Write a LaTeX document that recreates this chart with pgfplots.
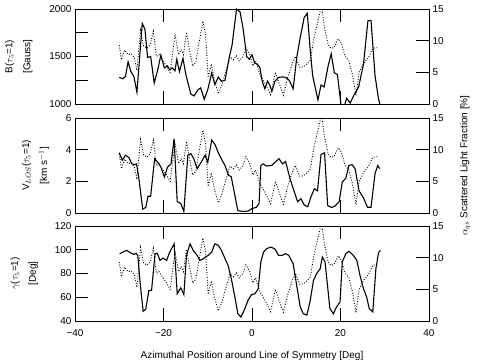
\documentclass[border=0pt]{standalone}
\usepackage{fontspec}
\setmainfont{Liberation Sans}
\usepackage{pgfplots}
\pgfplotsset{compat=1.18}
\usepackage{pgfplotstable}

% scattered light fraction (same in all three panels)
\pgfplotstableread{
x a
-30.0 9.3
-29.5 7.0
-28.8 8.5
-28.0 7.8
-27.2 7.9
-26.6 7.3
-26.0 5.3
-25.2 11.6
-24.5 9.2
-23.7 8.8
-23.0 9.4
-22.3 11.5
-21.6 7.5
-21.0 7.8
-20.3 7.0
-19.5 6.2
-18.5 5.0
-17.4 11.0
-16.6 7.8
-16.0 8.6
-15.5 7.8
-14.8 11.3
-14.1 8.5
-13.4 6.0
-12.7 6.6
-12.0 9.5
-11.1 13.1
-10.5 11.0
-9.9 4.2
-9.2 6.3
-8.5 3.8
-7.6 1.6
-6.8 3.0
-6.0 5.0
-5.0 7.4
-4.2 7.0
-3.5 7.6
-2.9 6.8
-2.0 7.5
-1.4 8.9
-0.6 8.0
0.2 6.0
0.8 6.8
1.8 4.6
2.9 3.3
4.2 1.5
5.3 5.0
6.0 3.5
7.1 1.4
8.0 4.0
9.0 6.2
9.8 7.5
10.8 5.8
11.7 5.9
12.5 6.4
13.2 7.0
14.0 10.4
14.8 12.8
15.7 15.5
16.4 12.0
17.2 9.4
17.8 8.8
18.5 8.9
19.5 10.3
20.2 9.6
21.0 7.6
21.9 6.8
22.7 4.6
23.5 1.3
24.2 5.0
25.3 6.5
26.3 7.3
27.3 8.8
28.4 8.9
}\alphatab

\pgfplotstableread{
x B
-30.0 1280
-29.2 1266
-28.6 1290
-28.0 1444
-27.4 1344
-26.7 1290
-26.0 1124
-24.8 1848
-24.2 1787
-23.6 1490
-22.9 1500
-22.1 1220
-21.3 1360
-20.6 1514
-19.8 1380
-19.1 1400
-18.6 1360
-18.0 1380
-17.4 1350
-17.0 1470
-16.4 1340
-15.6 1480
-14.9 1300
-13.8 1103
-13.1 1085
-12.2 1150
-11.6 1170
-10.8 1050
-10.0 1150
-9.1 1327
-8.4 1205
-7.6 1283
-6.9 1240
-6.1 1250
-5.1 1500
-4.5 1620
-3.5 2000
-2.7 1970
-2.0 1790
-1.2 1500
-0.6 1470
0.0 1520
0.6 1430
1.2 1420
1.8 1380
2.3 1240
2.9 1160
3.5 1240
4.0 1200
4.5 1134
5.2 1240
6.0 1280
6.9 1285
7.6 1280
8.4 1250
9.3 1160
10.1 1486
10.9 1700
11.8 1912
12.5 1954
13.1 1600
13.7 1300
14.9 1043
15.6 1200
16.3 1180
17.2 1400
17.9 1528
18.6 1330
19.3 1310
20.2 960
20.6 940
21.4 1060
22.2 1010
23.1 1100
24.1 1180
25.2 1420
26.2 1876
26.9 1880
27.8 1300
28.6 1050
29.2 950
}\btab

\pgfplotstableread{
x v
-30.0 3.81
-29.3 3.33
-28.6 3.65
-27.8 3.5
-27.2 3.12
-26.6 3.05
-26.1 3.1
-25.6 2.27
-24.7 0.25
-24.0 0.35
-23.5 1.06
-22.9 1.06
-22.0 3.43
-21.3 3.2
-20.6 2.9
-19.8 2.27
-19.1 2.9
-18.3 3.1
-17.6 4.7
-16.9 0.72
-16.1 0.6
-15.4 0.1
-14.5 3.65
-13.8 3.75
-13.1 3.4
-12.4 2.8
-11.5 3.2
-10.6 3.65
-10.0 3.2
-9.1 4.6
-8.4 4.35
-7.6 3.8
-6.9 3.4
-6.1 3.0
-5.3 2.38
-4.7 2.3
-4.0 1.3
-3.2 0.15
-2.0 0.1
-0.9 0.12
0.0 0.28
1.0 0.36
1.6 0.6
2.0 3.0
2.5 3.1
3.3 2.97
4.4 3.0
5.2 3.2
6.1 3.43
6.9 3.1
7.6 3.25
8.6 2.16
9.6 1.3
10.3 0.72
11.1 0.9
11.8 0.5
12.6 0.4
13.3 1.0
14.1 1.53
14.8 1.4
15.6 3.7
16.4 3.8
17.1 0.47
18.0 0.35
18.8 0.45
19.7 0.72
20.4 1.95
21.2 2.2
21.9 3.0
22.6 3.05
23.3 2.8
24.2 1.4
25.2 0.95
26.1 0.36
26.9 0.36
27.8 2.48
28.4 3.0
28.9 2.8
}\vtab

\pgfplotstableread{
x g
-29.9 96.7
-29.2 98
-28.3 99.5
-27.5 97.5
-26.7 96.1
-26.2 97
-25.8 95
-25.3 72.8
-24.6 48.2
-24.0 50
-23.3 65.8
-22.7 65.8
-21.9 96.7
-21.4 97
-20.8 91.1
-20.1 93
-19.3 91
-18.6 98
-17.6 105
-16.9 63
-16.1 68
-15.4 62.2
-14.8 95.3
-14.0 105
-13.3 99.5
-12.4 95.3
-11.8 91
-11.0 92.5
-9.9 95.3
-9.1 98
-8.4 105
-7.6 103.7
-6.9 99.5
-6.1 92.5
-5.4 86.8
-4.6 74.3
-3.8 58.8
-3.2 46.1
-2.5 43.4
-1.6 50.5
-0.9 57.5
-0.1 62.2
0.7 63
1.4 67.2
2.0 89.7
2.6 98
3.3 100.9
4.3 102.3
5.2 100.6
6.0 95.3
6.8 95.3
7.6 96.7
8.3 95.3
9.3 88.3
10.1 70
10.9 51.8
11.6 46.1
12.4 45
13.1 56
13.9 74.3
14.6 79.9
15.4 84
15.9 93.9
16.5 89.7
17.1 68.6
17.6 50.4
18.4 46.1
19.1 51.8
19.9 56
20.4 89.7
21.2 96.7
21.9 98.7
22.9 95.3
23.7 91
24.4 78.5
25.2 67.2
25.9 60.3
26.5 50.4
27.3 47.7
28.0 84
28.6 97.5
29.0 99.5
}\gtab

\pgfplotsset{
  panel/.style={
    scale only axis, width=354bp, height=95bp,
    xmin=-40, xmax=40, xtick={-40,-20,0,20,40},
    tick align=inside, major tick length=13bp,
    every tick/.style={black, line width=0.6pt},
    axis line style={line width=0.7pt},
    tick label style={font=\fontsize{10}{12}\selectfont},
    label style={font=\fontsize{10}{12}\selectfont},
    /pgf/number format/assume math mode=true,
  },
  leftax/.style={panel, ytick pos=left, xtick pos=both, xticklabels={},
    ylabel style={align=center, yshift=10bp}},
  rightax/.style={panel, axis y line*=right, axis x line=none,
    ymin=0, ymax=15, ytick={0,5,10,15}},
  solidline/.style={black, line width=1.1bp, no markers},
  dotline/.style={black, line width=0.9bp, no markers, dash pattern=on 0.9bp off 1.7bp},
}

\begin{document}
\begin{tikzpicture}
\path[use as bounding box] (0bp,0bp) rectangle (504bp,360bp);

% panel 1: field strength
\begin{axis}[leftax, at={(75bp,256bp)}, anchor=south west,
  ymin=1000, ymax=2000, ytick={1000,1250,1500,1750,2000},
  yticklabels={1000,,1500,,2000},
  ylabel={B($\tau_5$=1)\\[6bp]{[Gauss]}}]
  \addplot[solidline] table[x=x, y=B] {\btab};
\end{axis}
\begin{axis}[rightax, at={(75bp,256bp)}, anchor=south west]
  \addplot[dotline] table[x=x, y=a] {\alphatab};
\end{axis}

% panel 2: line of sight velocity
\begin{axis}[leftax, at={(75bp,147bp)}, anchor=south west,
  ymin=0, ymax=6, ytick={0,2,4,6},
  ylabel={V$_{LOS}$($\tau_5$=1)\\[6bp]{[km s$^{-1}$]}}]
  \addplot[solidline] table[x=x, y=v] {\vtab};
\end{axis}
\begin{axis}[rightax, at={(75bp,147bp)}, anchor=south west,
  ylabel={$\alpha_{qs}$ Scattered Light Fraction [\%]},
  ylabel style={at={(axis description cs:1.102,0.5)}, anchor=center}]
  \addplot[dotline] table[x=x, y=a] {\alphatab};
\end{axis}

% panel 3: inclination
\begin{axis}[leftax, at={(75bp,39bp)}, anchor=south west,
  ymin=40, ymax=120, ytick={40,60,80,100,120},
  xticklabels={−40,−20,0,20,40},
  xticklabel style={yshift=-5bp},
  xlabel={Azimuthal Position around Line of Symmetry [Deg]},
  xlabel style={yshift=-8bp},
  ylabel={$\gamma$($\tau_5$=1)\\[6bp]{[Deg]}}]
  \addplot[solidline] table[x=x, y=g] {\gtab};
\end{axis}
\begin{axis}[rightax, at={(75bp,39bp)}, anchor=south west]
  \addplot[dotline] table[x=x, y=a] {\alphatab};
\end{axis}
\end{tikzpicture}
\end{document}
